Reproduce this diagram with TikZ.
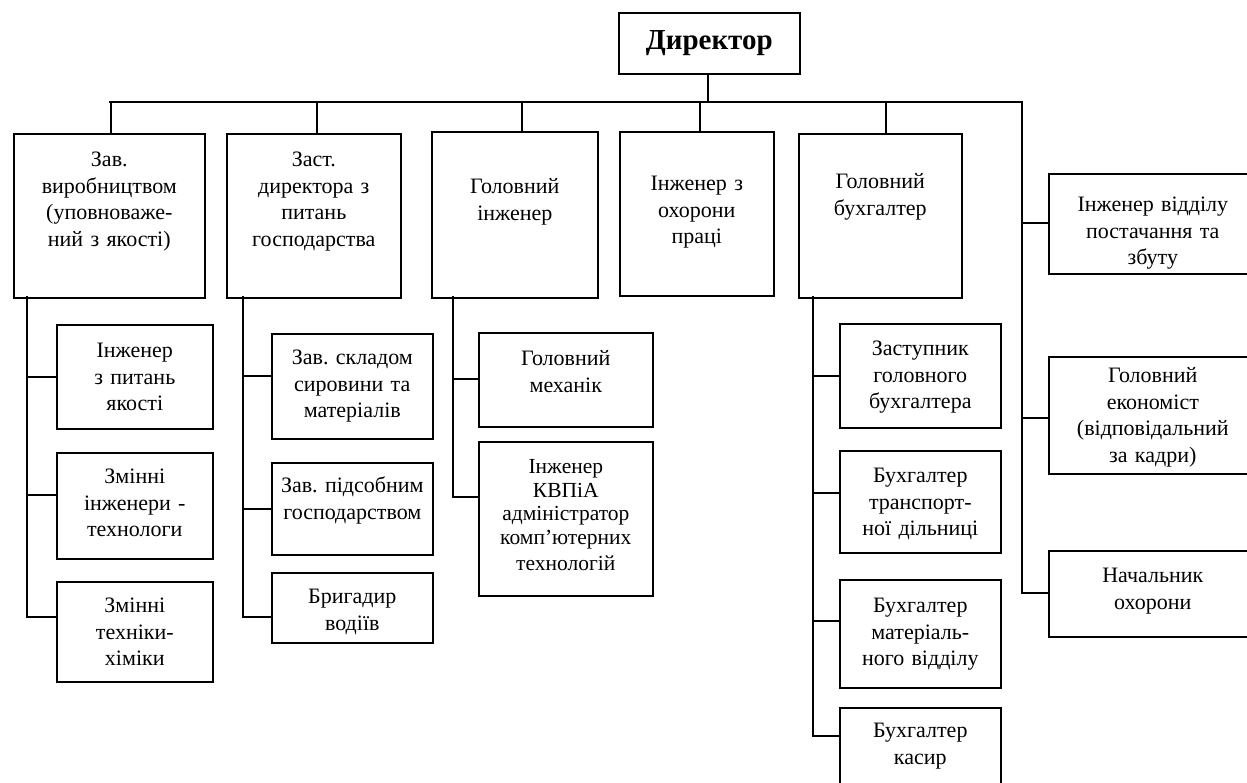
\documentclass[tikz,border=0pt]{standalone}
\usepackage{fontspec}
\setmainfont{Liberation Serif}
\frenchspacing
\tikzset{
  box/.style={draw, line width=1.6pt, rectangle, inner sep=0pt, anchor=north west, align=center,
    font=\fontsize{22}{26.5}\selectfont},
  conn/.style={line width=1.6pt, line cap=rect}
}
\newcommand\orgbox[7]{%
  \node[box, text width=\dimexpr #4pt-#2pt\relax, text height=#6pt,
        text depth=\dimexpr #5pt-#3pt-#6pt\relax] (#1) at (#2,#3) {#7};}
\begin{document}
\begin{tikzpicture}[x=1pt,y=-1pt]
\useasboundingbox (0,0) rectangle (1247,783);
\clip (0,0) rectangle (1247,783);
\fill[white] (0,0) rectangle (1247,783);

% director
\orgbox{dir}{618}{12}{799}{73}{37}{\fontsize{29}{33}\selectfont\bfseries Директор}

% top row
\orgbox{b1}{13}{133}{204}{297}{33}{Зав.\\виробництвом\\(уповноваже-\\ний з якості)}
\orgbox{b2}{226}{133}{400}{297}{33}{Заст.\\директора з\\питань\\господарства}
\orgbox{b3}{431}{131}{597}{297}{62}{Головний\\інженер}
\orgbox{b4}{619}{131}{773}{295}{59}{Інженер з\\охорони\\праці}
\orgbox{b5}{798}{133}{961}{297}{55}{Головний\\бухгалтер}

% right column
\orgbox{r1}{1048}{173}{1256}{273}{38}{Інженер відділу\\постачання та\\збуту}
\orgbox{r2}{1048}{356}{1256}{473}{26}{Головний\\економіст\\(відповідальний\\за кадри)}
\orgbox{r3}{1048}{550}{1256}{636}{32}{Начальник\\охорони}

% column 1 subordinates
\orgbox{s11}{56}{324}{212}{428}{33}{Інженер\\з питань\\якості}
\orgbox{s12}{56}{452}{212}{558}{31}{Змінні\\інженери -\\технологи}
\orgbox{s13}{56}{581}{212}{681}{31}{Змінні\\техніки-\\хіміки}

% column 2 subordinates
\orgbox{s21}{271}{333}{432}{438}{31}{Зав. складом\\сировини та\\матеріалів}
\orgbox{s22}{271}{462}{432}{554}{30}{Зав. підсобним\\господарством}
\orgbox{s23}{271}{572}{432}{642}{31}{Бригадир\\водіїв}

% column 3 subordinates
\orgbox{s31}{478}{332}{652}{426}{33}{Головний\\механік}
\orgbox{s32}{478}{441}{652}{595}{32}{\fontsize{21.5}{23.5}\selectfont Інженер\\КВПіА\\адміністратор\\комп’ютерних\\технологій}

% column 5 subordinates
\orgbox{s51}{839}{323}{1000}{427}{32}{Заступник\\головного\\бухгалтера}
\orgbox{s52}{839}{450}{1000}{552}{32}{Бухгалтер\\транспорт-\\ної дільниці}
\orgbox{s53}{839}{579}{1000}{687}{33}{Бухгалтер\\матеріаль-\\ного відділу}
\orgbox{s54}{839}{707}{1000}{800}{30}{Бухгалтер\\касир}

% main bus
\coordinate (busL) at (110,102);
\coordinate (busR) at (1022,102);
\draw[conn] (busL) -- (busR);
\draw[conn] ([xshift=-1.5pt]dir.south) -- ([xshift=-1.5pt]dir.south |- busL);
\draw[conn] ([xshift=1.5pt]b1.north) -- ([xshift=1.5pt]b1.north |- busL);
\draw[conn] ([xshift=3pt]b2.north) -- ([xshift=3pt]b2.north |- busL);
\draw[conn] ([xshift=7pt]b3.north) -- ([xshift=7pt]b3.north |- busL);
\draw[conn] ([xshift=3pt]b4.north) -- ([xshift=3pt]b4.north |- busL);
\draw[conn] ([xshift=5.5pt]b5.north) -- ([xshift=5.5pt]b5.north |- busL);

% right spine
\coordinate (jr1) at (1022,223);
\coordinate (jr2) at (1022,418);
\coordinate (jr3) at (1022,593);
\draw[conn] (busR) -- (jr3) -- (jr3 -| r3.west);
\draw[conn] (jr1) -- (jr1 -| r1.west);
\draw[conn] (jr2) -- (jr2 -| r2.west);

% column 1 spine
\coordinate (j10) at (27,297);
\coordinate (j11) at (27,377);
\coordinate (j12) at (27,495);
\coordinate (j13) at (27,617);
\draw[conn] (j10) -- (j13) -- (j13 -| s13.west);
\draw[conn] (j11) -- (j11 -| s11.west);
\draw[conn] (j12) -- (j12 -| s12.west);

% column 2 spine
\coordinate (j20) at (243,297);
\coordinate (j21) at (243,376);
\coordinate (j22) at (243,509);
\coordinate (j23) at (243,617);
\draw[conn] (j20) -- (j23) -- (j23 -| s23.west);
\draw[conn] (j21) -- (j21 -| s21.west);
\draw[conn] (j22) -- (j22 -| s22.west);

% column 3 spine
\coordinate (j30) at (453,297);
\coordinate (j31) at (453,379);
\coordinate (j32) at (453,497);
\draw[conn] (j30) -- (j32) -- (j32 -| s32.west);
\draw[conn] (j31) -- (j31 -| s31.west);

% column 5 spine
\coordinate (j50) at (813,297);
\coordinate (j51) at (813,376);
\coordinate (j52) at (813,493);
\coordinate (j53) at (813,621);
\coordinate (j54) at (813,736);
\draw[conn] (j50) -- (j54) -- (j54 -| s54.west);
\draw[conn] (j51) -- (j51 -| s51.west);
\draw[conn] (j52) -- (j52 -| s52.west);
\draw[conn] (j53) -- (j53 -| s53.west);
\end{tikzpicture}
\end{document}
